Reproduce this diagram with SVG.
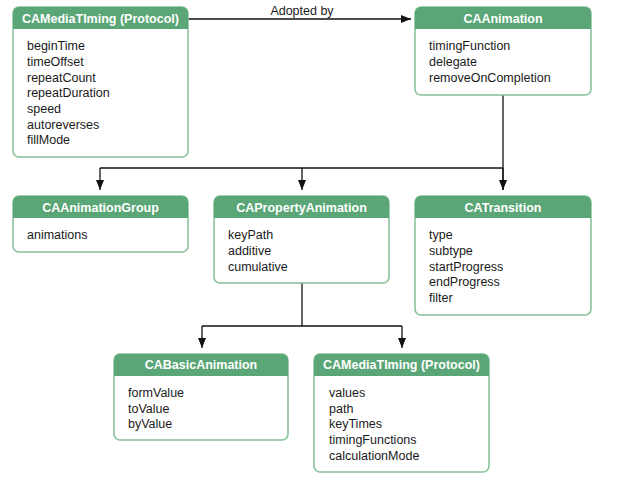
<svg xmlns="http://www.w3.org/2000/svg" width="617" height="480" viewBox="0 0 617 480">
<defs>
<marker id="ah" markerWidth="10" markerHeight="8" refX="10" refY="4" orient="auto" markerUnits="userSpaceOnUse">
<path d="M0,0 L10,4 L0,8 Z" fill="#111"/>
</marker>
</defs>
<style>
.box{fill:#fff;stroke:#84c098;stroke-width:1.5}
.hdr{fill:#5aa676}
.ttl{font-family:"Liberation Sans",Arial,sans-serif;font-size:12.5px;font-weight:bold;fill:#fff;text-anchor:middle}
.itm{font-family:"Liberation Sans",Arial,sans-serif;font-size:12.5px;fill:#1a1a1a}
.lbl{font-family:"Liberation Sans",Arial,sans-serif;font-size:12.5px;fill:#1a1a1a;text-anchor:middle}
.ln{fill:none;stroke:#111;stroke-width:1.3}
</style>
<rect width="617" height="480" fill="#fff"/>
<g id="connectors">
<path class="ln" d="M188,19 H411" marker-end="url(#ah)"/>
<text class="lbl" x="302" y="15">Adopted by</text>
<path class="ln" d="M503,95 V190"/>
<path class="ln" d="M503,168 V190" marker-end="url(#ah)"/>
<path class="ln" d="M100,168 H503"/>
<path class="ln" d="M100,168 V190" marker-end="url(#ah)"/>
<path class="ln" d="M302,168 V190" marker-end="url(#ah)"/>
<path class="ln" d="M302,283 V326"/>
<path class="ln" d="M202,326 H402"/>
<path class="ln" d="M202,326 V348" marker-end="url(#ah)"/>
<path class="ln" d="M402,326 V348" marker-end="url(#ah)"/>
</g>
<g id="node-mediatiming1">
<rect class="box" x="13" y="7" width="175" height="150" rx="6"/>
<path class="hdr" d="M13,29 V13 a6,6 0 0 1 6,-6 H182 a6,6 0 0 1 6,6 V29 Z"/>
<text class="ttl" x="100.5" y="23">CAMediaTIming (Protocol)</text>
<text class="itm" x="27" y="50">beginTime</text>
<text class="itm" x="27" y="66">timeOffset</text>
<text class="itm" x="27" y="81.5">repeatCount</text>
<text class="itm" x="27" y="97">repeatDuration</text>
<text class="itm" x="27" y="113">speed</text>
<text class="itm" x="27" y="128.5">autoreverses</text>
<text class="itm" x="27" y="144">fillMode</text>
</g>
<g id="node-caanimation">
<rect class="box" x="415" y="7" width="176" height="88" rx="6"/>
<path class="hdr" d="M415,29 V13 a6,6 0 0 1 6,-6 H585 a6,6 0 0 1 6,6 V29 Z"/>
<text class="ttl" x="503" y="23">CAAnimation</text>
<text class="itm" x="429" y="50">timingFunction</text>
<text class="itm" x="429" y="66">delegate</text>
<text class="itm" x="429" y="81.5">removeOnCompletion</text>
</g>
<g id="node-animationgroup">
<rect class="box" x="13" y="196" width="175" height="56" rx="6"/>
<path class="hdr" d="M13,218 V202 a6,6 0 0 1 6,-6 H182 a6,6 0 0 1 6,6 V218 Z"/>
<text class="ttl" x="100.5" y="212">CAAnimationGroup</text>
<text class="itm" x="27" y="239">animations</text>
</g>
<g id="node-propertyanimation">
<rect class="box" x="214" y="196" width="175" height="87" rx="6"/>
<path class="hdr" d="M214,218 V202 a6,6 0 0 1 6,-6 H383 a6,6 0 0 1 6,6 V218 Z"/>
<text class="ttl" x="301.5" y="212">CAPropertyAnimation</text>
<text class="itm" x="228" y="239">keyPath</text>
<text class="itm" x="228" y="255">additive</text>
<text class="itm" x="228" y="270.5">cumulative</text>
</g>
<g id="node-transition">
<rect class="box" x="415" y="196" width="176" height="119" rx="6"/>
<path class="hdr" d="M415,218 V202 a6,6 0 0 1 6,-6 H585 a6,6 0 0 1 6,6 V218 Z"/>
<text class="ttl" x="503" y="212">CATransition</text>
<text class="itm" x="429" y="239">type</text>
<text class="itm" x="429" y="255">subtype</text>
<text class="itm" x="429" y="270.5">startProgress</text>
<text class="itm" x="429" y="286">endProgress</text>
<text class="itm" x="429" y="302">filter</text>
</g>
<g id="node-basicanimation">
<rect class="box" x="114" y="354" width="174" height="86" rx="6"/>
<path class="hdr" d="M114,376 V360 a6,6 0 0 1 6,-6 H282 a6,6 0 0 1 6,6 V376 Z"/>
<text class="ttl" x="201" y="369">CABasicAnimation</text>
<text class="itm" x="128" y="397">formValue</text>
<text class="itm" x="128" y="412.5">toValue</text>
<text class="itm" x="128" y="428">byValue</text>
</g>
<g id="node-mediatiming2">
<rect class="box" x="314" y="354" width="175" height="118" rx="6"/>
<path class="hdr" d="M314,376 V360 a6,6 0 0 1 6,-6 H483 a6,6 0 0 1 6,6 V376 Z"/>
<text class="ttl" x="401.5" y="369">CAMediaTIming (Protocol)</text>
<text class="itm" x="329" y="397">values</text>
<text class="itm" x="329" y="412.5">path</text>
<text class="itm" x="329" y="428">keyTimes</text>
<text class="itm" x="329" y="444">timingFunctions</text>
<text class="itm" x="329" y="459.5">calculationMode</text>
</g>
</svg>
